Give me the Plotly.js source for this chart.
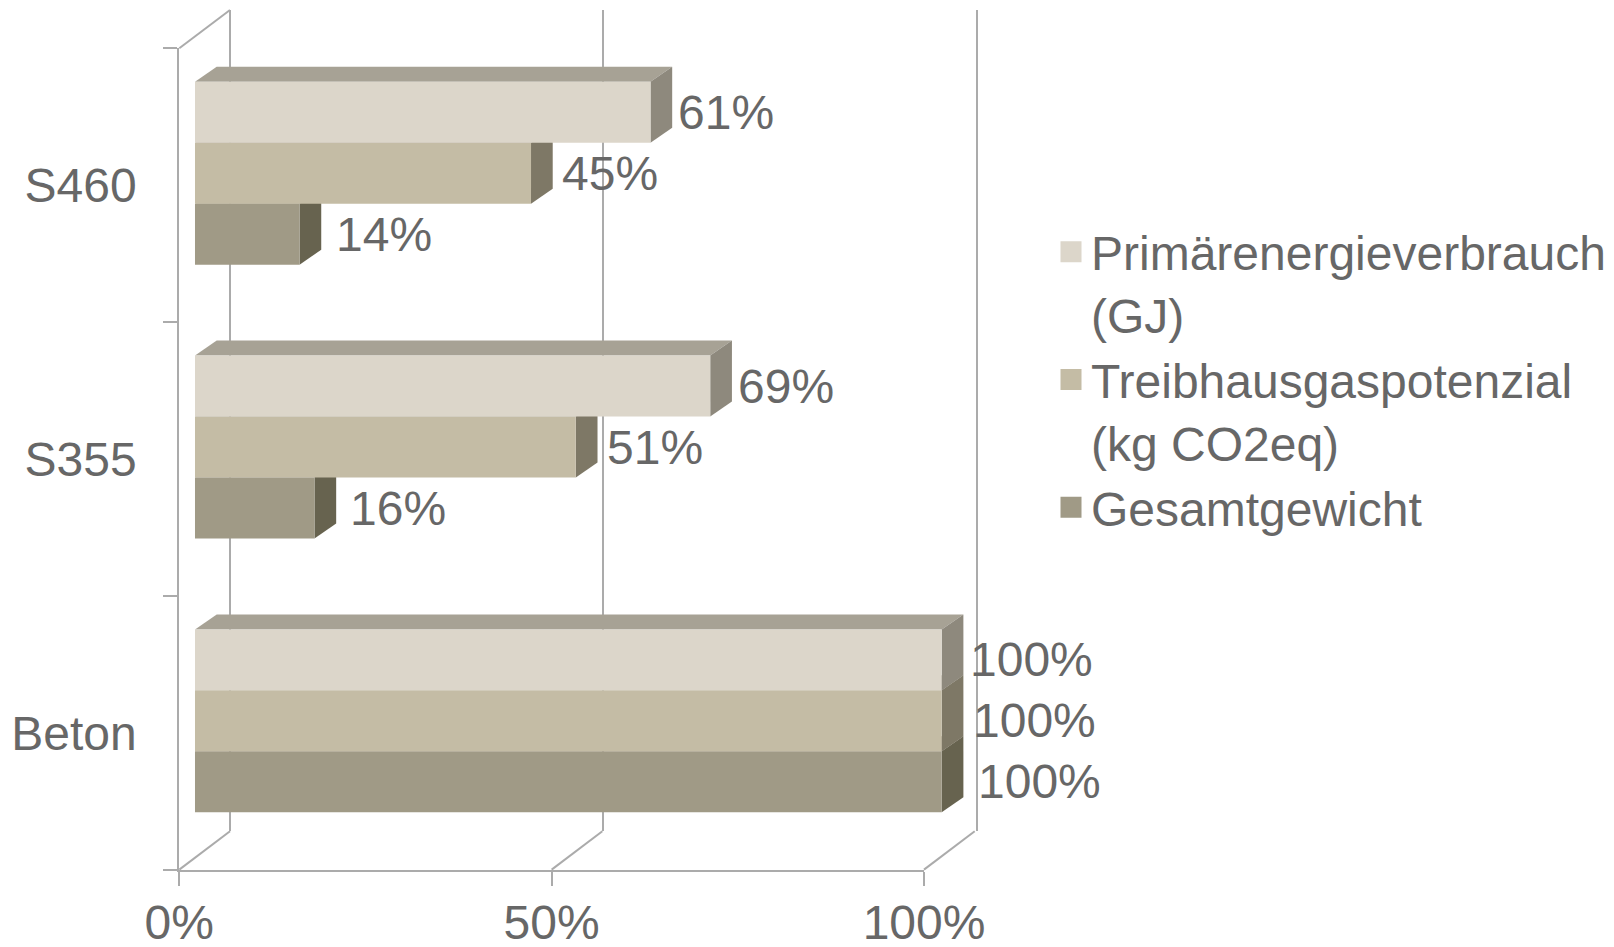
<!DOCTYPE html>
<html>
<head>
<meta charset="utf-8">
<script src="https://cdn.plot.ly/plotly-3.0.1.min.js"></script>
<style>html,body{margin:0;padding:0;background:#fff;}#chart{width:1614px;height:947px;}</style>
</head>
<body>
<div id="chart"></div>
<script>
// ---- data ----
const categories = ['Beton', 'S355', 'S460'];
const seriesNames = ['Primärenergieverbrauch<br>(GJ)', 'Treibhausgaspotenzial<br>(kg CO2eq)', 'Gesamtgewicht'];
const primaerenergie = [100, 69, 61];
const treibhausgas = [100, 51, 45];
const gesamtgewicht = [100, 16, 14];
const xTickVals = [0, 50, 100];
const xTickText = ['0%', '50%', '100%'];

// ---- style ----
const W = 1614, H = 947;
const FONT = 'Liberation Sans, Arial, sans-serif';
const TXT = '#676767';
const LINE = '#ababab';
const frontColors = ['#dcd6ca', '#c4bca5', '#a09a86'];
const sideColors = ['#8e897d', '#7e7866', '#67634f'];
const topColor = '#a7a295';
const labelShift = [26, 29, 34];
const BARGAP = 0.332;

const seriesValues = [primaerenergie, treibhausgas, gesamtgewicht];
const nS = seriesValues.length;

// pixel geometry of the 3D box
const front = {x0: 179.3, x1: 924, yb: 869.6, yt: 48.3};
const back = {dx: 50.7, dy: 38.3, x1: 976.7};
const barOff = {dx: 15.7, dy: 11.9};
const barDepth = {dx: 21.7, dy: 15};
const px = v => v / W;
const py = v => 1 - v / H;

const xRange = [0, 100];
const yRange = [-0.5, categories.length - 0.5];
const barX0 = front.x0 + barOff.dx, barX1 = 941.7;
const pxPerX = (barX1 - barX0) / (xRange[1] - xRange[0]);
const pxPerY = (front.yb - front.yt) / (yRange[1] - yRange[0]);
const DX = barDepth.dx / pxPerX;
const DY = barDepth.dy / pxPerY;
const wideRange = [-2, 110]; // room beyond the 0..100 % frame
const backX0 = front.x0 + back.dx;
const backPx = (back.x1 - backX0) / (xRange[1] - xRange[0]);

const groupW = 1 - BARGAP;
const barH = groupW / nS;

const traces = [];
// empty trace so the back-wall subplot is drawn
traces.push({type: 'scatter', mode: 'markers', x: [null], y: [null], xaxis: 'x', yaxis: 'y',
  showlegend: false, hoverinfo: 'skip'});
// bars, drawn bottom (last series) to top (first series)
for (let k = nS - 1; k >= 0; k--) {
  traces.push({
    type: 'bar', orientation: 'h',
    x: seriesValues[k], y: categories,
    xaxis: 'x2', yaxis: 'y2',
    marker: {color: frontColors[k], line: {width: 0}},
    showlegend: false, hoverinfo: 'skip'
  });
}
// legend entries (on the front-axes subplot so it gets drawn)
for (let k = 0; k < nS; k++) {
  traces.push({
    type: 'scatter', mode: 'markers', x: [null], y: [null],
    xaxis: 'x3', yaxis: 'y3', name: seriesNames[k],
    marker: {symbol: 'square', size: 16, color: frontColors[k], line: {width: 5, color: frontColors[k]}},
    hoverinfo: 'skip'
  });
}

const shapes = [];
// 3D faces for each bar
categories.forEach((c, i) => {
  for (let k = nS - 1; k >= 0; k--) {
    const pos = nS - 1 - k;
    const y0 = i - groupW / 2 + pos * barH;
    const y1 = y0 + barH;
    const v = seriesValues[k][i];
    shapes.push({type: 'path', xref: 'x2', yref: 'y2', layer: 'below',
      path: `M0,${y1} L${DX},${y1 + DY} L${v + DX},${y1 + DY} L${v},${y1} Z`,
      fillcolor: topColor, line: {width: 0}});
    shapes.push({type: 'path', xref: 'x2', yref: 'y2', layer: 'below',
      path: `M${v},${y0} L${v},${y1} L${v + DX},${y1 + DY} L${v + DX},${y0 + DY} Z`,
      fillcolor: sideColors[k], line: {width: 0}});
  }
});
// floor diagonals and left-wall top edge (frame, in paper space)
const fx = t => front.x0 + (t - xRange[0]) / (xRange[1] - xRange[0]) * (front.x1 - front.x0);
xTickVals.forEach(t => {
  shapes.push({type: 'line', xref: 'paper', yref: 'paper', layer: 'below',
    x0: px(fx(t)), y0: py(front.yb), x1: px(fx(t) + back.dx), y1: py(front.yb - back.dy),
    line: {color: LINE, width: 2}});
});
shapes.push({type: 'line', xref: 'paper', yref: 'paper', layer: 'below',
  x0: px(front.x0), y0: py(front.yt), x1: px(front.x0 + back.dx), y1: py(front.yt - back.dy),
  line: {color: LINE, width: 2}});

// data labels
const annotations = [];
categories.forEach((c, i) => {
  for (let k = 0; k < nS; k++) {
    const pos = nS - 1 - k;
    const yc = i - groupW / 2 + (pos + 0.5) * barH;
    const v = seriesValues[k][i];
    annotations.push({xref: 'x2', yref: 'y2', x: v, y: yc, text: v + '%',
      xanchor: 'left', yanchor: 'middle', xshift: labelShift[k], showarrow: false,
      font: {family: FONT, size: 48, color: TXT}});
  }
});

const layout = {
  width: W, height: H,
  margin: {l: 0, r: 0, t: 0, b: 0},
  paper_bgcolor: '#fff', plot_bgcolor: 'rgba(0,0,0,0)',
  font: {family: FONT, size: 48, color: TXT},
  barmode: 'group', bargap: BARGAP, bargroupgap: 0,
  showlegend: true,
  legend: {x: px(1051), xanchor: 'left', y: py(214), yanchor: 'top',
    valign: 'top', font: {family: FONT, size: 48, color: TXT},
    bgcolor: 'rgba(0,0,0,0)', borderwidth: 0, traceorder: 'normal'},
  // back wall (gridlines)
  xaxis: {domain: [px(backX0 + wideRange[0] * backPx), px(backX0 + wideRange[1] * backPx)], range: wideRange, anchor: 'y',
    tickvals: xTickVals, showticklabels: false, ticks: '', showgrid: true, gridcolor: LINE, gridwidth: 2,
    zeroline: false, showline: false, fixedrange: true},
  yaxis: {domain: [py(front.yb - back.dy), py(front.yt - back.dy)], range: [0, 1], anchor: 'x',
    showticklabels: false, ticks: '', showgrid: false, zeroline: false, showline: false, fixedrange: true},
  // bars
  xaxis2: {domain: [px(barX0 + wideRange[0] * pxPerX), px(barX0 + wideRange[1] * pxPerX)], range: wideRange, anchor: 'y2',
    visible: false, showgrid: false, zeroline: false, fixedrange: true},
  yaxis2: {domain: [py(front.yb - barOff.dy), py(front.yt - barOff.dy)], range: yRange, anchor: 'x2',
    type: 'category', categoryorder: 'array', categoryarray: categories,
    visible: false, showgrid: false, zeroline: false, fixedrange: true},
  // front axes
  xaxis3: {domain: [px(front.x0), px(front.x1)], range: xRange, anchor: 'y3',
    tickvals: xTickVals, ticktext: xTickText, showgrid: false, zeroline: false,
    showline: true, linecolor: LINE, linewidth: 2, ticks: 'outside', ticklen: 14, tickwidth: 2, tickcolor: LINE,
    tickfont: {family: FONT, size: 48, color: TXT}, ticklabelstandoff: -4, fixedrange: true},
  yaxis3: {domain: [py(front.yb), py(front.yt)], range: yRange, anchor: 'x3',
    type: 'category', categoryorder: 'array', categoryarray: categories, tickson: 'boundaries',
    showgrid: false, zeroline: false,
    showline: true, linecolor: LINE, linewidth: 2, ticks: 'outside', ticklen: 14, tickwidth: 2, tickcolor: LINE,
    tickfont: {family: FONT, size: 48, color: TXT}, ticklabelstandoff: 31, fixedrange: true},
  shapes: shapes,
  annotations: annotations
};

Plotly.newPlot('chart', traces, layout, {displayModeBar: false, staticPlot: true});
</script>
</body>
</html>
